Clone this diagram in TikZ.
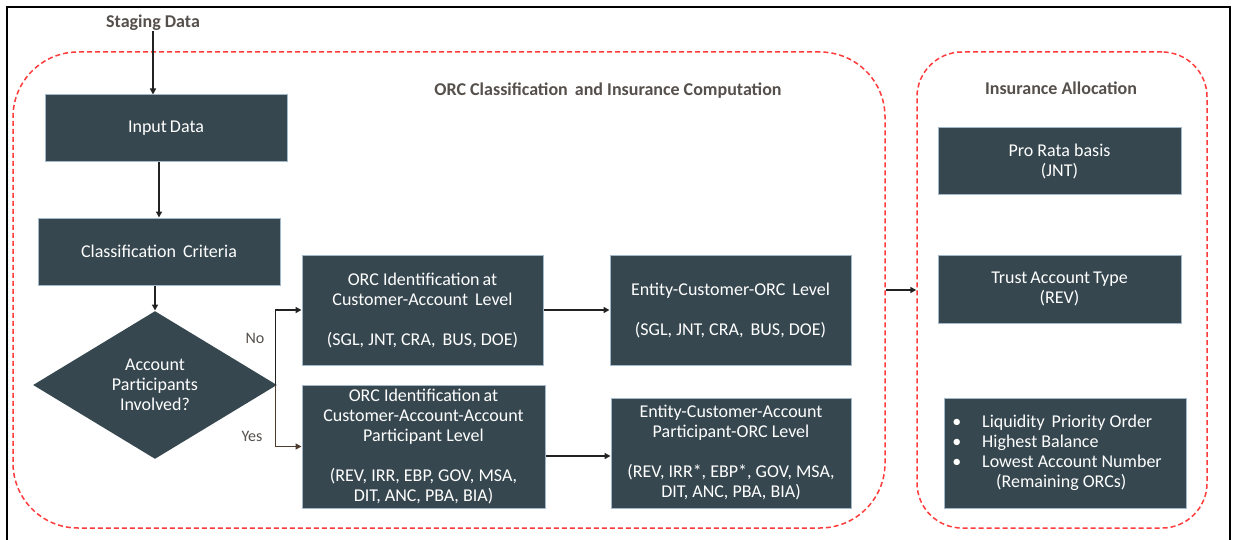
\documentclass[tikz,border=0pt]{standalone}
\usepackage{fontspec}
\setmainfont{Carlito}
\usetikzlibrary{shapes.geometric,arrows.meta}
\definecolor{boxfill}{HTML}{36474F}
\definecolor{boxline}{HTML}{A3B8C8}
\definecolor{dashred}{HTML}{FF3B3B}
\definecolor{titlecol}{HTML}{55504B}
\definecolor{arrowcol}{HTML}{222222}
\definecolor{yescol}{HTML}{4E3B2C}
\newcommand{\ds}{\hspace{3pt}}
\begin{document}
\begin{tikzpicture}[x=1pt,y=1pt,
  box/.style={draw=boxline, line width=1pt, fill=boxfill, text=white, align=center,
    inner sep=0pt, font=\fontsize{18}{20}\selectfont},
  region/.style={draw=dashred, line width=1.5pt, dash pattern=on 5pt off 3pt, inner sep=0pt},
  ttl/.style={text=titlecol, font=\bfseries\fontsize{18}{20}\selectfont, inner sep=0pt},
  lbl/.style={text=titlecol, font=\fontsize{16}{18}\selectfont, inner sep=0pt},
  conn/.style={draw=arrowcol, line width=1.6pt, -{Triangle[length=6pt,width=6pt]}},
]
\useasboundingbox (0,0) rectangle (1233,-540);
\fill[white] (0,0) rectangle (1233,-540);
% outer frame
\draw[line width=2.2pt, black] (7,-541) -- (7,-7) -- (1230,-7) -- (1230,-541);

% regions
\node[region, rounded corners=65pt, minimum width=872pt, minimum height=476pt] (reg1) at (449,-290) {};
\node[region, rounded corners=45pt, minimum width=290pt, minimum height=476pt] (reg2) at (1062,-290) {};

% titles
\node[ttl] (staging) at (153,-23) {Staging Data};
\node[ttl] (t1) at (608,-91) {ORC Classification\ds\ and Insurance Computation};
\node[ttl] (t2) at (1061,-88) {Insurance Allocation};

% left column
\node[box, minimum width=242pt, minimum height=67pt] (input) at (166,-128.5) {Input\ds Data};
\node[box, minimum width=242pt, minimum height=67pt] (class) at (159,-251.5) {Classification\ds\ Criteria};
\node[box, shape=diamond, aspect=1.65, minimum width=244pt, minimum height=148pt, draw=none] (dia) at (155,-385) {Account\\Participants\\Involved?};

% middle boxes
\node[box, minimum width=241pt, minimum height=110pt] (orc1) at (422.5,-310)
  {ORC Identification\ds at\\Customer-Account\ds\ Level\\[20pt](SGL, JNT, CRA,\ds\ BUS, DOE)};
\node[box, minimum width=241pt, minimum height=110pt] (ent1) at (730.5,-310)
  {Entity-Customer-ORC\ds\ Level\\[20pt](SGL, JNT, CRA,\ds\ BUS, DOE)};
\node[box, minimum width=243pt, minimum height=123pt] (orc2) at (423.5,-446.5)
  {ORC Identification\ds at\\Customer-Account-Account\\Participant Level\\[20pt](REV, IRR, EBP, GOV, MSA,\\DIT, ANC, PBA, BIA)};
\node[box, minimum width=240pt, minimum height=110pt] (ent2) at (731,-453)
  {Entity-Customer-Account\\Participant-ORC Level\\[20pt](REV, IRR*, EBP*, GOV, MSA,\\DIT, ANC, PBA, BIA)};

% right boxes
\node[box, minimum width=243pt, minimum height=66pt] (pro) at (1059.5,-161) {Pro Rata basis\\(JNT)};
\node[box, minimum width=243pt, minimum height=68pt] (trust) at (1059.5,-289) {Trust\ds Account\ds Type\\(REV)};
\node[box, minimum width=242pt, minimum height=110pt] (liq) at (1065,-453)
  {\begin{tabular}{@{}l@{\hspace{21pt}}l@{}}
   \textbullet & Liquidity\ds\ Priority Order\\
   \textbullet & Highest Balance\\
   \textbullet & Lowest Account Number\\
   & \hspace{14pt}(Remaining ORCs)
   \end{tabular}\hspace*{16pt}};

% labels
\node[lbl] (no) at (255,-338) {No};
\node[lbl] (yes) at (252,-436) {Yes};

% connectors
\draw[conn] (staging.south) -- (staging.south |- input.north);
\draw[conn] ([xshift=-7pt]input.south) -- ([xshift=-7pt]input.south |- class.north);
\draw[conn] (dia.north |- class.south) -- (dia.north);
\draw[conn] ([xshift=-2pt]dia.east) |- (orc1.west);
\draw[conn, draw=yescol] ([xshift=-2pt]dia.east) |- (orc2.west);
\draw[conn] (orc1.east) -- (ent1.west);
\draw[conn] ([yshift=-3pt]orc2.east |- ent2.west) -- ([yshift=-3pt]ent2.west);
\draw[conn] (reg1.east) -- (reg2.west);
\end{tikzpicture}
\end{document}
